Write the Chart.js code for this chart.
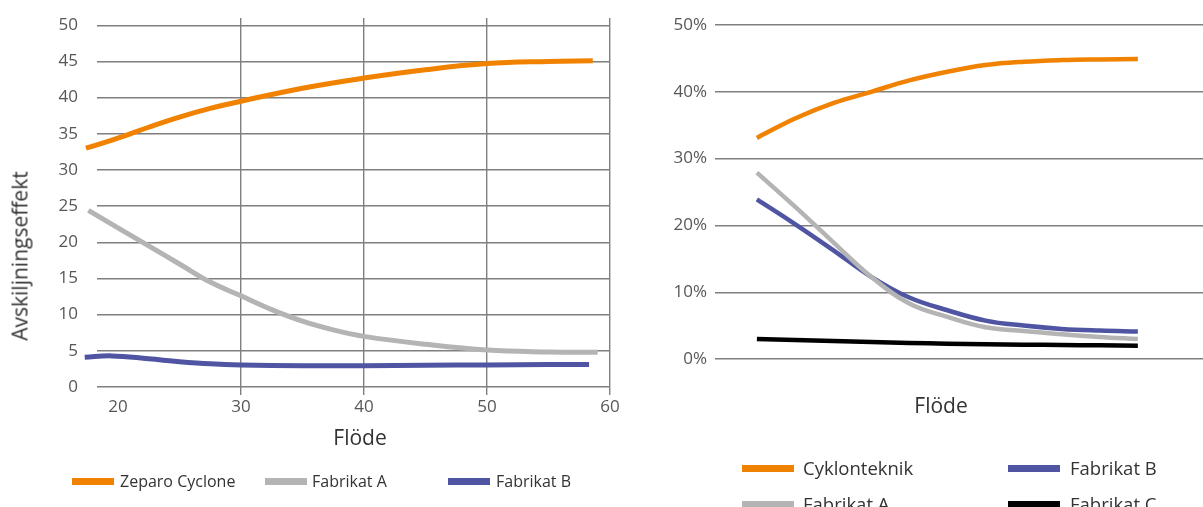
<!DOCTYPE html>
<html>
<head>
<meta charset="utf-8">
<script src="https://cdn.jsdelivr.net/npm/chart.js@4"></script>
<style>
  html, body { margin: 0; padding: 0; background: #fff; }
  body { width: 1203px; height: 507px; overflow: hidden; position: relative; font-family: "Open Sans", Lato, sans-serif; color: #333; }
  canvas { position: absolute; top: 0; }
  .txt { position: absolute; white-space: nowrap; line-height: 1; }
  .sw { position: absolute; height: 7px; }
</style>
</head>
<body>
<canvas id="left" width="640" height="507" style="left:0"></canvas>
<canvas id="right" width="563" height="507" style="left:640px"></canvas>

<div class="txt" id="ytitle" style="left:20px;top:256px;font-size:21px;transform:translate(-50%,-50%) rotate(-90deg);">Avskiljningseffekt</div>
<div class="txt" style="left:360px;top:437px;font-size:21px;transform:translate(-50%,-50%);">Flöde</div>
<div class="txt" style="left:941px;top:405px;font-size:21px;transform:translate(-50%,-50%);">Flöde</div>

<div id="legendLeft"></div>
<div id="legendRight"></div>

<script>
// ---------- Left chart data (Flöde vs Avskiljningseffekt) ----------
const zeparoFlow = [17.4, 20, 22.5, 25, 27.5, 30, 35, 40, 45, 50, 55, 58.6];
const zeparoEff  = [33.0, 34.4, 35.9, 37.3, 38.5, 39.5, 41.3, 42.7, 43.85, 44.7, 45.0, 45.1];
const leftAFlow  = [17.6, 20, 22.5, 25, 27.5, 30, 32.5, 35, 37.5, 40, 45, 50, 55, 59.0];
const leftAEff   = [24.4, 22.0, 19.5, 17.0, 14.5, 12.6, 10.7, 9.1, 7.9, 7.0, 5.9, 5.1, 4.85, 4.8];
const leftBFlow  = [17.3, 19.5, 22.5, 25, 27.5, 30, 35, 40, 45, 50, 55, 58.3];
const leftBEff   = [4.1, 4.3, 3.9, 3.5, 3.2, 3.05, 2.95, 2.95, 3.0, 3.05, 3.1, 3.1];
const leftXTicks = [20, 30, 40, 50, 60];
const leftYTicks = [0, 5, 10, 15, 20, 25, 30, 35, 40, 45, 50];
const leftNames  = ["Zeparo Cyclone", "Fabrikat A", "Fabrikat B"];

// ---------- Right chart data (percent) ----------
const rightFlow   = [0, 1, 2, 3, 4, 5, 6, 7, 8, 9, 10];
const cyklonPct   = [33.1, 36.0, 38.3, 40.0, 41.7, 43.0, 44.0, 44.5, 44.75, 44.85, 44.9];
const rightAPct   = [27.9, 22.8, 17.5, 12.3, 8.3, 6.3, 4.75, 4.2, 3.7, 3.3, 3.0];
const rightBPct   = [23.9, 20.2, 16.3, 12.3, 9.2, 7.3, 5.75, 5.0, 4.5, 4.25, 4.1];
const rightCPct   = [3.0, 2.85, 2.7, 2.55, 2.4, 2.3, 2.2, 2.15, 2.1, 2.05, 2.0];
const rightYTicks = [0, 10, 20, 30, 40, 50];
const rightNames  = ["Cyklonteknik", "Fabrikat A", "Fabrikat B", "Fabrikat C"];

const ORANGE = "#F08200", GRAY = "#B4B4B4", BLUE = "#4F55A2", BLACK = "#000000";
const GRID = "#7f7f7f", TICK = "#575757";

Chart.defaults.font.family = "'Open Sans', Lato, sans-serif";
Chart.defaults.color = TICK;

const pts = (xs, ys) => xs.map((x, i) => ({ x: x, y: ys[i] }));
const lineDs = (label, xs, ys, color, w) => ({
  label, data: pts(xs, ys), borderColor: color, backgroundColor: color,
  borderWidth: w, pointRadius: 0, tension: 0.4,
  clip: false, fill: false
});

new Chart(document.getElementById("left"), {
  type: "line",
  data: { datasets: [
    lineDs(leftNames[0], zeparoFlow, zeparoEff, ORANGE, 5),
    lineDs(leftNames[1], leftAFlow, leftAEff, GRAY, 5),
    lineDs(leftNames[2], leftBFlow, leftBEff, BLUE, 5)
  ]},
  options: {
    responsive: false, animation: false,
    layout: { padding: { top: 18, right: 30, bottom: 0, left: 0 } },
    plugins: { legend: { display: false }, tooltip: { enabled: false } },
    scales: {
      x: {
        type: "linear", min: 18.3, max: 60,
        afterBuildTicks: s => { s.ticks = leftXTicks.map(v => ({ value: v })); },
        afterFit: s => { s.height = 120; s.paddingLeft = 0; s.paddingRight = 0; },
        border: { display: false },
        grid: { color: c => (c.tick && c.tick.value === 20) ? "rgba(0,0,0,0)" : GRID, lineWidth: 1.4, tickLength: 8 },
        ticks: { padding: 2, font: { size: 17 }, color: TICK, maxRotation: 0 }
      },
      y: {
        min: 0, max: 51,
        afterBuildTicks: s => { s.ticks = leftYTicks.map(v => ({ value: v })); },
        afterFit: s => { s.width = 97; s.paddingTop = 0; s.paddingBottom = 0; },
        border: { display: false },
        grid: { color: GRID, lineWidth: 1.4, drawTicks: false },
        ticks: { padding: 19, font: { size: 17 }, color: TICK }
      }
    }
  }
});

new Chart(document.getElementById("right"), {
  type: "line",
  data: { datasets: [
    lineDs(rightNames[0], rightFlow, cyklonPct, ORANGE, 4.5),
    lineDs(rightNames[1], rightFlow, rightAPct, GRAY, 4.5),
    lineDs(rightNames[2], rightFlow, rightBPct, BLUE, 4.5),
    lineDs(rightNames[3], rightFlow, rightCPct, BLACK, 4.5)
  ]},
  options: {
    responsive: false, animation: false,
    layout: { padding: { top: 25, right: 0, bottom: 148, left: 0 } },
    plugins: { legend: { display: false }, tooltip: { enabled: false } },
    scales: {
      x: { type: "linear", display: false, min: -1.1, max: 11.71 },
      y: {
        min: 0, max: 50,
        afterBuildTicks: s => { s.ticks = rightYTicks.map(v => ({ value: v })); },
        afterFit: s => { s.width = 75; s.paddingTop = 0; s.paddingBottom = 0; },
        border: { display: false },
        grid: { color: GRID, lineWidth: 1.4, drawTicks: false },
        ticks: { padding: 8, font: { size: 17 }, color: TICK, callback: v => v + "%" }
      }
    }
  }
});

// ---------- HTML legends ----------
function addItem(parent, name, color, swLeft, swWidth, cy, textLeft, size) {
  const sw = document.createElement("div");
  sw.className = "sw";
  sw.style.cssText = `left:${swLeft}px;top:${cy - 3.5}px;width:${swWidth}px;background:${color};`;
  const t = document.createElement("div");
  t.className = "txt";
  t.textContent = name;
  t.style.cssText = `left:${textLeft}px;top:${cy}px;font-size:${size}px;transform:translateY(-50%);`;
  parent.appendChild(sw); parent.appendChild(t);
}
const lL = document.getElementById("legendLeft");
addItem(lL, leftNames[0], ORANGE, 72, 42, 481, 120, 16);
addItem(lL, leftNames[1], GRAY, 265, 42, 481, 312, 16);
addItem(lL, leftNames[2], BLUE, 448, 42, 481, 496, 16);
const lR = document.getElementById("legendRight");
addItem(lR, rightNames[0], ORANGE, 742, 52, 468, 803, 18.5);
addItem(lR, rightNames[2], BLUE, 1008, 52, 468, 1070, 18.5);
addItem(lR, rightNames[1], GRAY, 742, 52, 504, 803, 18.5);
addItem(lR, rightNames[3], BLACK, 1008, 52, 504, 1070, 18.5);
</script>
</body>
</html>
